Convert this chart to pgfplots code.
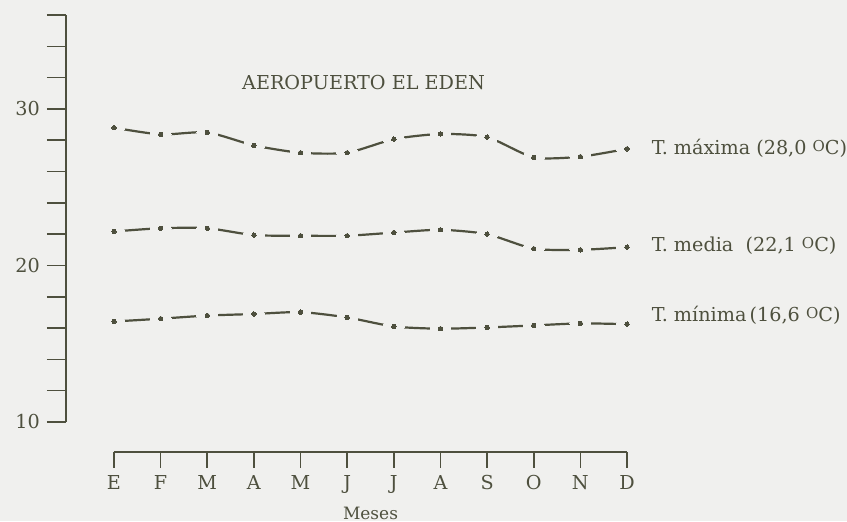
\documentclass[border=0pt]{standalone}
\usepackage{pgfplots}
\usepackage{pgfplotstable}
\pgfplotsset{compat=1.18}
\usepackage{fontspec}
\setmainfont{DejaVu Serif}
\definecolor{bg}{RGB}{240,240,238}
\definecolor{ink}{RGB}{78,80,62}
\pgfplotstableread{
x max med min
0 28.8 22.17 16.42
1 28.37 22.38 16.6
2 28.5 22.38 16.8
3 27.67 21.94 16.9
4 27.2 21.9 17.02
5 27.2 21.9 16.68
6 28.07 22.1 16.1
7 28.4 22.28 15.96
8 28.2 22.0 16.04
9 26.9 21.07 16.17
10 26.95 21.0 16.3
11 27.45 21.17 16.25
}\data
\newcommand{\degC}{\raisebox{0.3ex}{\fontsize{7.5}{8}\selectfont O}C}
\begin{document}
\begin{tikzpicture}[font=\fontsize{9.6}{11}\selectfont]
\fill[bg] (-33pt,-49.5pt) rectangle (390.5pt,211pt);
\path[use as bounding box] (-33pt,-49.5pt) rectangle (390.5pt,211pt);
\begin{axis}[scale only axis, width=280.5pt, height=203.5pt, at={(0pt,0pt)}, anchor=south west,
 xmin=-1.03, xmax=11, ymin=10, ymax=36,
 axis y line*=left, axis x line=none,
 ytick={10,20,30}, minor ytick={12,14,16,18,22,24,26,28,32,34,36},
 tick align=outside, major tick length=9.5pt, minor tick length=9.5pt,
 tick style={ink, line width=0.8pt}, axis line style={ink, line width=0.8pt},
 yticklabel style={font=\fontsize{9.6}{11}\selectfont, text=ink},
 /pgf/number format/assume math mode=true,
 clip=false]
\foreach \s in {max,med,min}{
\addplot[ink, line width=1.1pt, smooth, tension=0.4] table[x=x,y=\s]{\data};
\addplot[bg, only marks, mark=*, mark size=5.2pt, mark options={draw=bg, fill=bg, line width=0pt}] table[x=x,y=\s]{\data};
\addplot[ink, only marks, mark=*, mark size=1.1pt, mark options={draw=ink, fill=ink, line width=0pt}] table[x=x,y=\s]{\data};
}
\node[text=ink] at (axis cs:5.35,31.7) {AEROPUERTO EL EDEN};
\node[text=ink, anchor=west] at (axis cs:11.38,27.48) {T. máxima (28,0 \degC)};
\node[text=ink, anchor=west] at (axis cs:11.38,21.28) {T. media\ \ (22,1 \degC)};
\node[text=ink, anchor=west] at (axis cs:11.38,16.8) {T. mínima\,(16,6 \degC)};
\end{axis}
\begin{axis}[scale only axis, width=256.5pt, height=1pt, at={(24pt,-15pt)}, anchor=south west,
 xmin=0, xmax=11, ymin=0, ymax=1,
 axis x line*=bottom, axis y line=none,
 xtick={0,...,11}, xticklabels={E,F,M,A,M,J,J,A,S,O,N,D},
 tick align=outside, major tick length=8pt,
 tick style={ink, line width=0.8pt}, axis line style={ink, line width=0.8pt},
 xticklabel style={font=\fontsize{9.6}{11}\selectfont, text=ink},
 xlabel={Meses}, xlabel style={font=\fontsize{8.5}{10}\selectfont, text=ink},
 clip=false]
\addplot[draw=none] coordinates {(0,0)};
\end{axis}
\end{tikzpicture}
\end{document}
